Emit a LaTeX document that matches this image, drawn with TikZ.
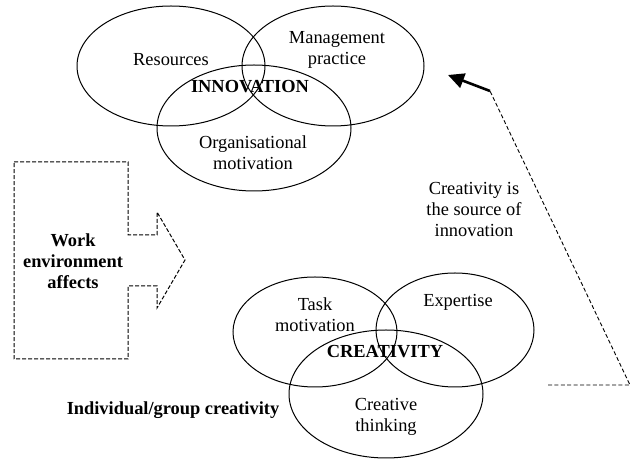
\documentclass[tikz,border=0pt]{standalone}
\usepackage{fontspec}
\setmainfont{Liberation Serif}
\usetikzlibrary{arrows.meta,shapes,positioning}

\begin{document}
\begin{tikzpicture}[x=0.5pt,y=-0.5pt,line width=0.5pt,
                    font=\fontsize{9.2}{10.5}\selectfont]
  \tikzstyle{blob}=[draw,ellipse,inner sep=0pt]
  \tikzstyle{lbl}=[align=center,inner sep=0pt]
  \tikzstyle{hd}=[lbl,font=\fontsize{9.2}{10.5}\selectfont\bfseries]
  \tikzstyle{dsh}=[dash pattern=on 2pt off 1pt]

  \useasboundingbox (0,0) rectangle (633,459);

  % innovation
  \node[blob,minimum width=94pt,minimum height=60pt]	(res)  at (171,66)	{};
  \node[blob,minimum width=91pt,minimum height=60pt]	(mgmt) at (333,66)	{};
  \node[blob,minimum width=97pt,minimum height=63pt]	(org)  at (254,128)	{};

  \node[lbl]	(resT)  at (171,60)		{Resources};
  \node[lbl]	(mgmtT) at (337,50)		{Management\\practice};
  \node[lbl]	(orgT)  at (253,153)	{Organisational\\motivation};
  \node[hd]		(inno)  at (250,87)		{INNOVATION};

  % creativity
  \node[blob,minimum width=82pt,minimum height=55pt]	(task)   at (315,332)	{};
  \node[blob,minimum width=79pt,minimum height=57pt]	(expert) at (455,330)	{};
  \node[blob,minimum width=97pt,minimum height=64pt]	(think)  at (386,394)	{};

  \node[lbl]	(taskT)   at (315,315)	{Task\\motivation};
  \node[lbl]	(expertT) at (458,302)	{Expertise};
  \node[lbl]	(thinkT)  at (386,417)	{Creative\\thinking};
  \node[hd]		(crea)    at (385,352)	{CREATIVITY};
  \node[hd]		(indiv)   at (173,410)	{Individual/group creativity};

  % work environment
  \draw[dsh] (14,162) -- (128,162) -- (128,235) -- (157,235) -- (157,212)
             -- (185,260) -- (157,308) -- (157,286) -- (128,286) -- (128,359)
             -- (14,359) -- cycle;
  \node[hd]		(work) at (73,261)	{Work\\environment\\affects};

  % source of innovation
  \coordinate (src)    at (548,385);
  \coordinate (corner) at (630,385);
  \coordinate (bend)   at (490,91);
  \coordinate (tip)    at (448,75);
  \draw[dash pattern=on 2pt off 1.2pt,line width=0.45pt] (src) -- (corner) -- (bend);
  \draw[line width=1.3pt,-{Triangle[length=8pt,width=7.5pt]}] (bend) -- (tip);
  \node[lbl]	(srcT) at (474,210)	{Creativity is\\the source of\\innovation};
\end{tikzpicture}
\end{document}
